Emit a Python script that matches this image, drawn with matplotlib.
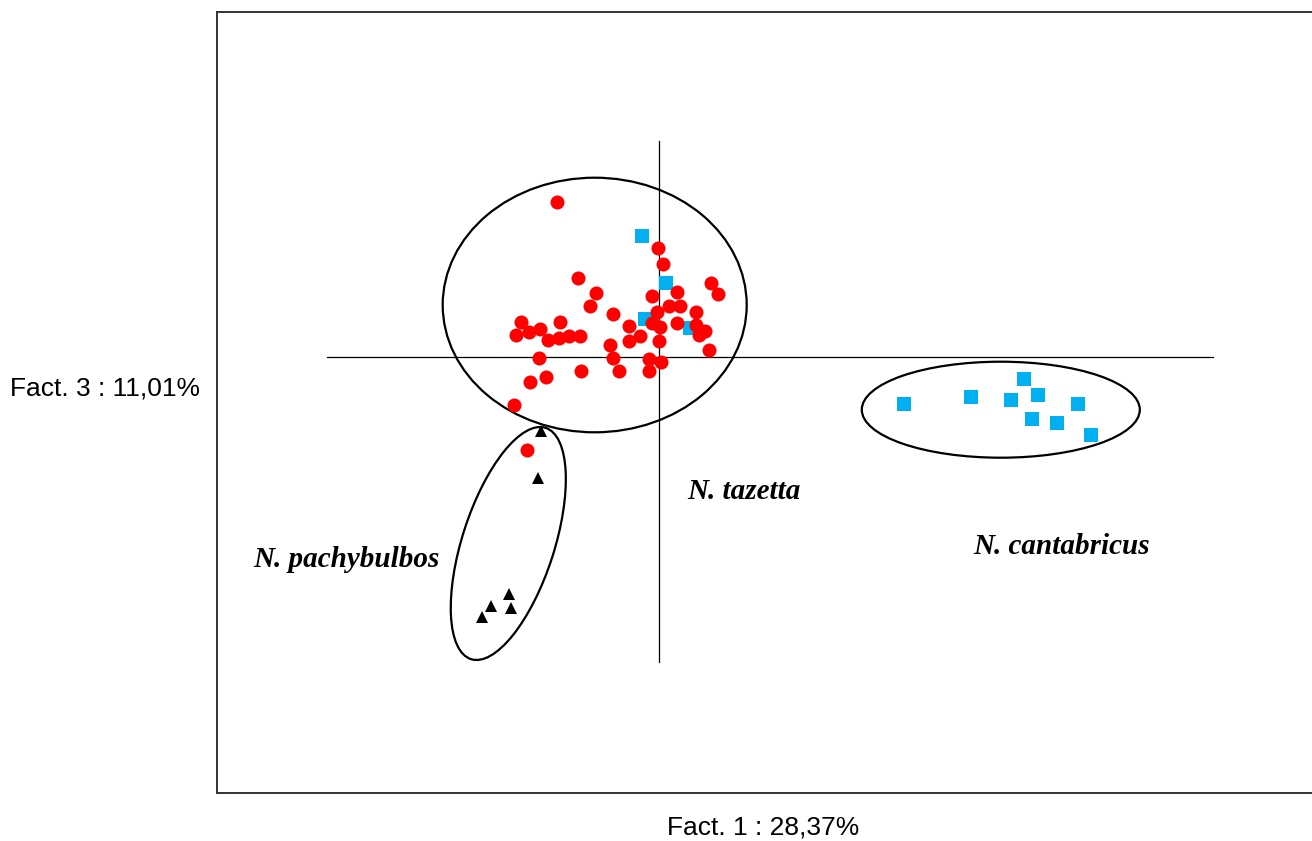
import matplotlib
matplotlib.use("Agg")
import matplotlib.pyplot as plt
from matplotlib.patches import Ellipse

# ---- data (factor scores) ----
tazetta_x = [-1.02, -0.01, 0.04, -0.81, 0.52, 0.59, -0.63, 0.18, -0.07, -0.69,
             0.10, 0.21, -0.02, 0.37, -0.46, -1.38, -0.99, -0.07, 0.18, 0.01,
             -0.30, 0.37, -1.19, -1.30, -1.43, 0.46, 0.40, -1.00, -0.90, -0.79,
             -1.11, -0.19, -0.30, 0.00, -0.49, 0.50, -1.20, -0.46, -0.10, 0.02,
             -0.78, -0.40, -0.10, -1.13, -1.29, -1.45, -1.32]
tazetta_y = [1.55, 1.09, 0.93, 0.79, 0.74, 0.63, 0.64, 0.65, 0.61, 0.51,
             0.51, 0.51, 0.45, 0.45, 0.43, 0.35, 0.35, 0.34, 0.34, 0.30,
             0.31, 0.32, 0.28, 0.25, 0.22, 0.26, 0.22, 0.19, 0.21, 0.21,
             0.17, 0.21, 0.16, 0.16, 0.12, 0.07, -0.01, -0.01, -0.02, -0.05,
             -0.14, -0.14, -0.14, -0.20, -0.25, -0.48, -0.93]

cantab_x = [-0.17, 0.07, -0.14, 0.31,
            2.45, 3.12, 3.65, 3.52, 3.79, 4.19, 3.73, 3.98, 4.32]
cantab_y = [1.21, 0.74, 0.38, 0.29,
            -0.47, -0.40, -0.22, -0.43, -0.38, -0.47, -0.62, -0.66, -0.78]

pachy_x = [-1.18, -1.21, -1.50, -1.68, -1.48, -1.77]
pachy_y = [-0.74, -1.21, -2.36, -2.48, -2.51, -2.59]

group_labels = ["N. tazetta", "N. pachybulbos", "N. cantabricus"]
x_label = "Fact. 1 : 28,37%"
y_label = "Fact. 3 : 11,01%"

# ---- figure ----
W, H = 1312, 841
fig = plt.figure(figsize=(W / 100, H / 100), dpi=100)
ax = fig.add_axes([217 / W, (H - 793) / H, (1312 - 217) / W, (793 - 12) / H])
ax.set_xlim(-4.42, 6.53)
ax.set_ylim(-4.355, 3.455)
ax.set_xticks([])
ax.set_yticks([])
for side in ["left", "top", "bottom"]:
    ax.spines[side].set_color("#333333")
    ax.spines[side].set_linewidth(1.4)
ax.spines["right"].set_visible(False)

# cross lines through the origin
ax.plot([0, 0], [-3.045, 2.165], color="black", lw=0.9, zorder=1)
ax.plot([-3.317, 5.543], [0, 0], color="black", lw=0.9, zorder=1)

# group ellipses
ell_kw = dict(fill=False, edgecolor="black", lw=1.6, zorder=2)
ax.add_patch(Ellipse((-0.643, 0.525), 3.04, 2.546, **ell_kw))
ax.add_patch(Ellipse((3.418, -0.522), 2.78, 0.96, **ell_kw))
ax.add_patch(Ellipse((-1.507, -1.86), 2.43, 0.92, angle=72.1, **ell_kw))

# points
ax.plot(cantab_x, cantab_y, linestyle="none", marker="s", markersize=9.9,
        color="#00B0F0", markeredgewidth=0, zorder=3)
ax.plot(tazetta_x, tazetta_y, linestyle="none", marker="o", markersize=10.1,
        color="#FF0000", markeredgewidth=0, zorder=4)
ax.plot(pachy_x, pachy_y, linestyle="none", marker="^", markersize=8.8,
        color="black", markeredgewidth=0, zorder=4)

# group labels
lab_kw = dict(family=["Liberation Serif", "DejaVu Serif"], fontsize=21,
              fontweight="bold", fontstyle="italic", ha="center", va="baseline",
              zorder=5)
ax.text(0.85, (357.5 - 499) / 100, group_labels[0], **lab_kw)
ax.text(-3.13, (357.5 - 567) / 100, group_labels[1], **lab_kw)
ax.text(4.03, (357.5 - 554) / 100, group_labels[2], **lab_kw)

# axis titles
ax_kw = dict(family=["Liberation Sans", "DejaVu Sans"], fontsize=19, va="baseline")
fig.text(763.5 / W, 1 - 835 / H, x_label, ha="center", **ax_kw)
fig.text(10 / W, 1 - 395 / H, y_label, ha="left", **ax_kw)

fig.savefig("out.png", dpi=100)
